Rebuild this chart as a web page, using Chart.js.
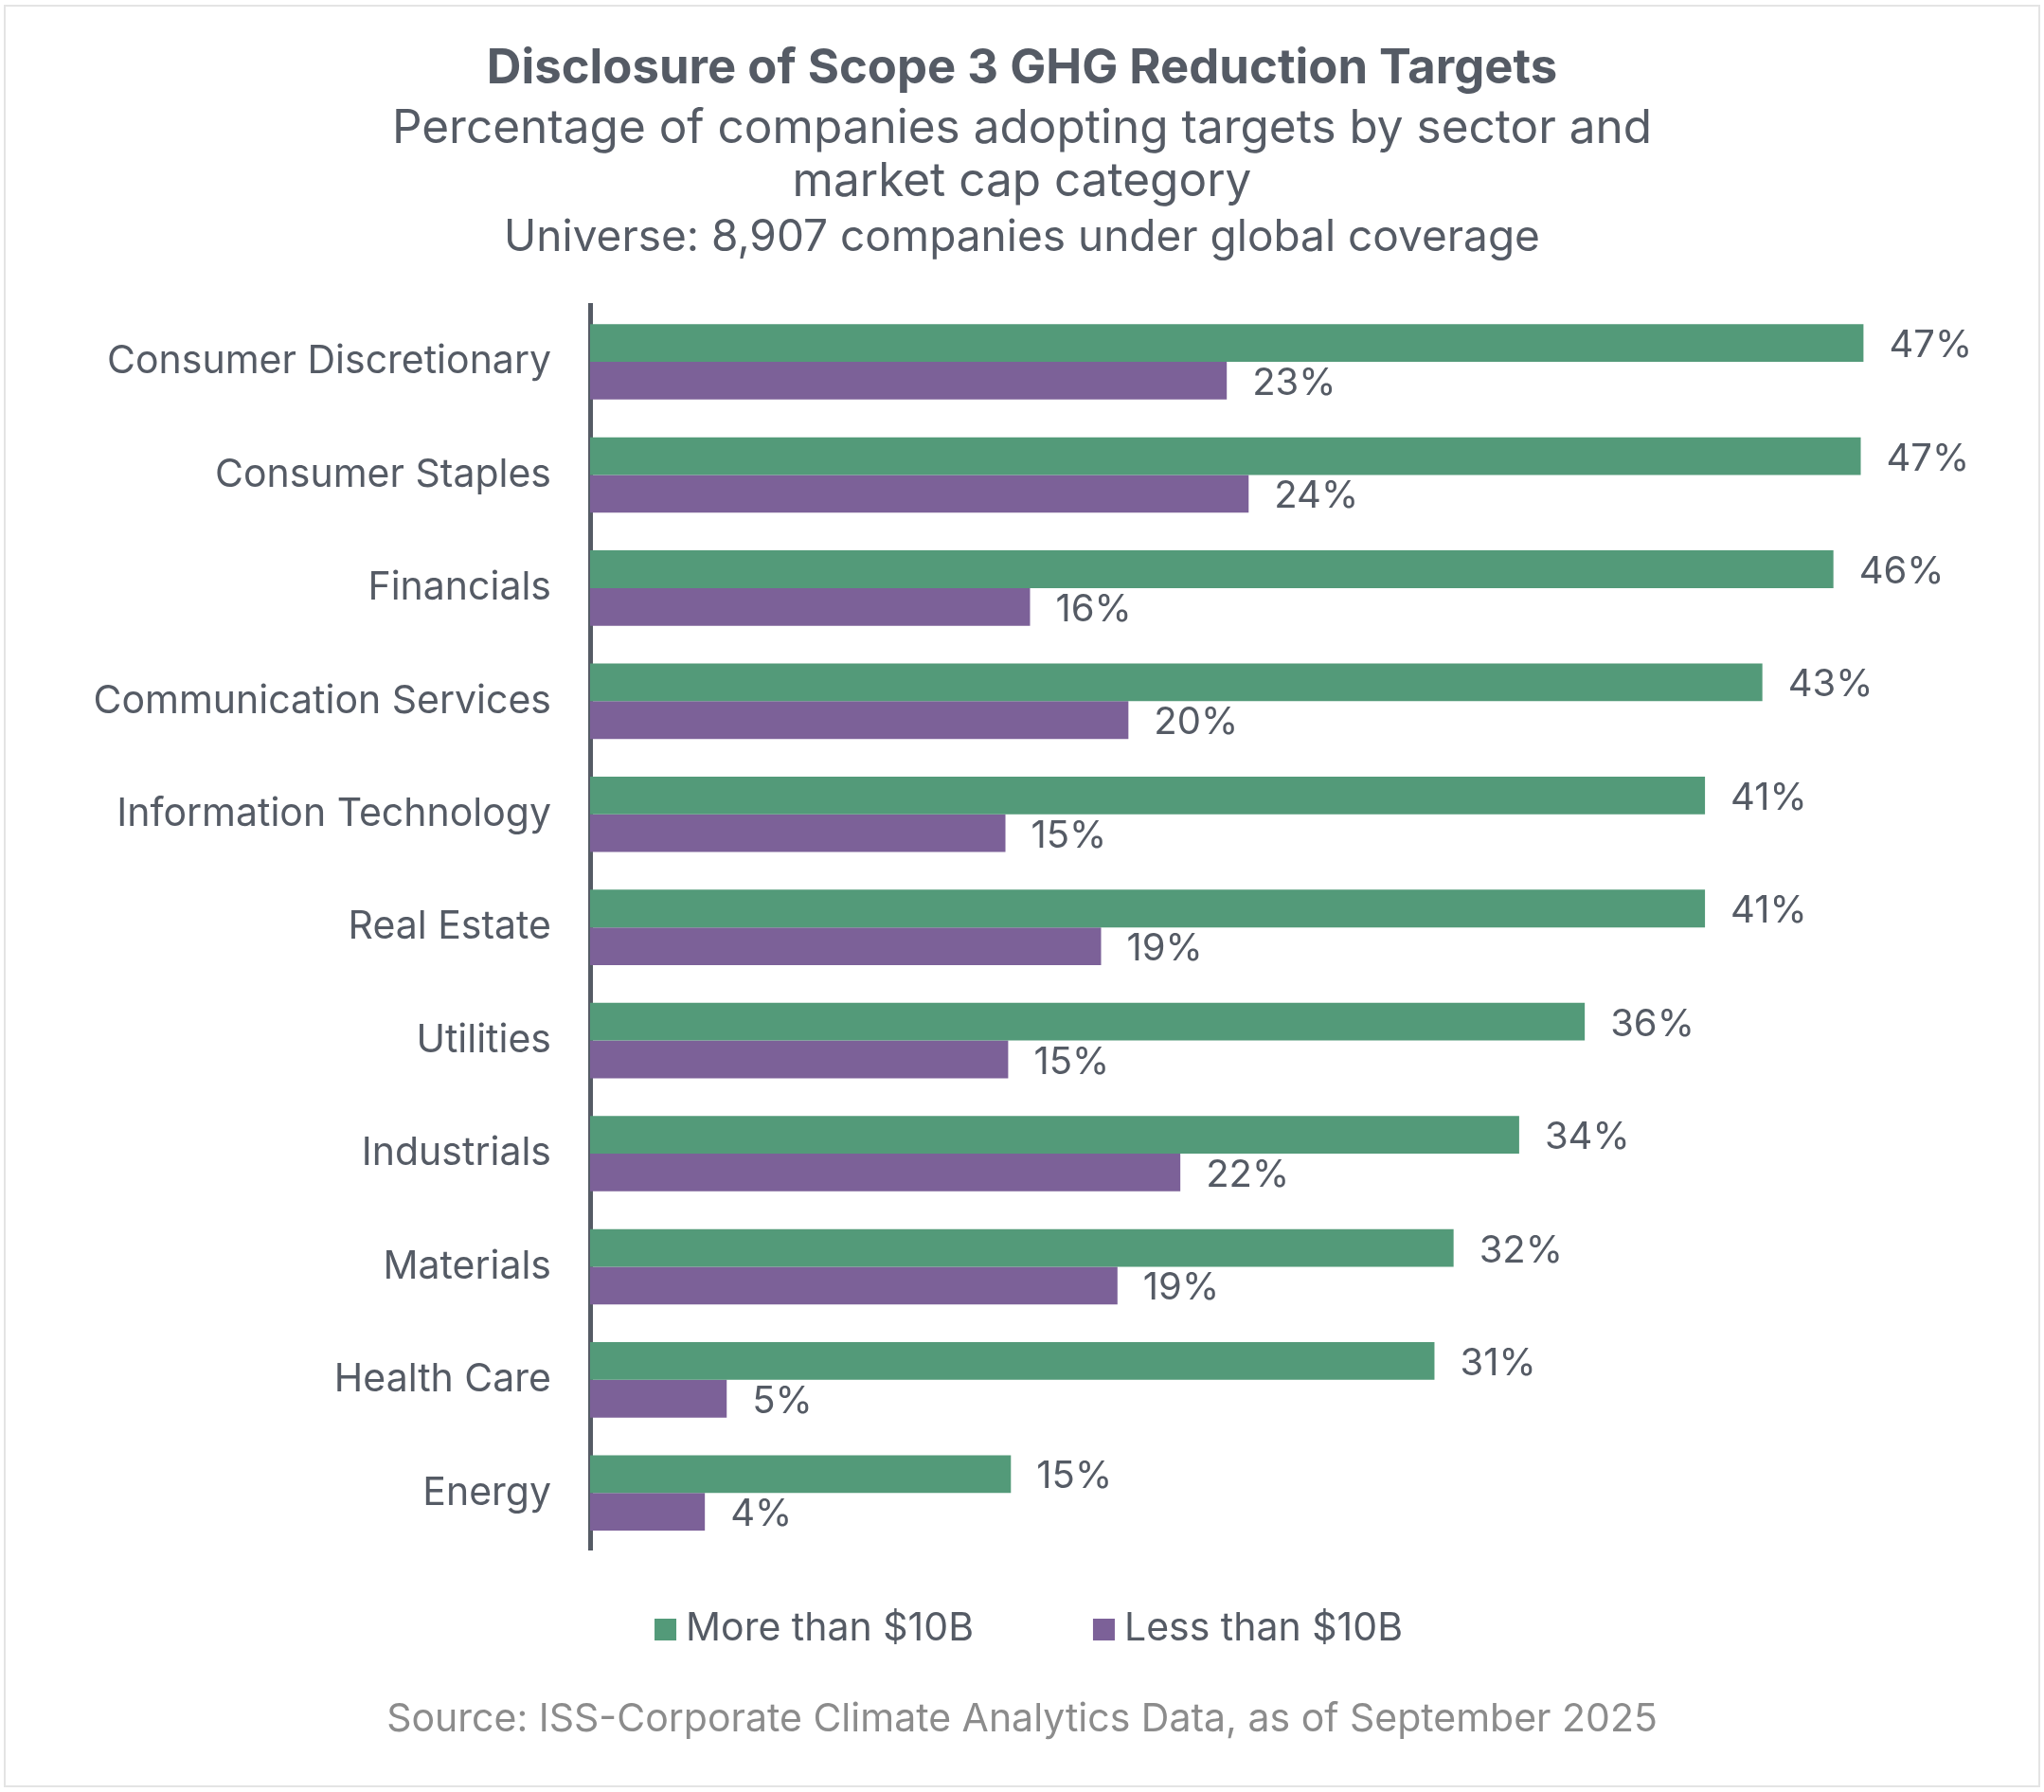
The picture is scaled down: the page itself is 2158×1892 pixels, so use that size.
<!DOCTYPE html>
<html>
<head>
<meta charset="utf-8">
<script src="https://cdn.jsdelivr.net/npm/chart.js@4.4.9/dist/chart.umd.min.js"></script>
<style>
  html, body { margin: 0; padding: 0; background: #fff; }
  #frame { position: absolute; left: 4px; top: 5px; width: 2150px; height: 1882px; border: 2px solid #e4e4e4; box-sizing: border-box; }
  #wrap { position: absolute; left: 0; top: 0; width: 2158px; height: 1892px; }
</style>
</head>
<body>
<div id="frame"></div>
<div id="wrap"><canvas id="scopeChart"></canvas></div>
<script>
// data
const sectors = [
  'Consumer Discretionary', 'Consumer Staples', 'Financials', 'Communication Services',
  'Information Technology', 'Real Estate', 'Utilities', 'Industrials',
  'Materials', 'Health Care', 'Energy'
];
const largeCap = [46.6, 46.5, 45.5, 42.9, 40.8, 40.8, 36.4, 34.0, 31.6, 30.9, 15.4];
const smallCap = [23.3, 24.1, 16.1, 19.7, 15.2, 18.7, 15.3, 21.6, 19.3, 5.0, 4.2];
const seriesNames = ['More than $10B', 'Less than $10B'];
const seriesColors = ['#539a79', '#7c6198'];

const titleText = 'Disclosure of Scope 3 GHG Reduction Targets';
const subtitleLines = [
  'Percentage of companies adopting targets by sector and',
  'market cap category'
];
const universeText = 'Universe: 8,907 companies under global coverage';
const sourceText = 'Source: ISS-Corporate Climate Analytics Data, as of September 2025';

const textColor = '#555b65';
const fontFamily = 'Inter, "Noto Sans", sans-serif';

// value labels at the end of each bar
const barValueLabels = {
  id: 'barValueLabels',
  afterDatasetsDraw(chart) {
    const ctx = chart.ctx;
    ctx.save();
    ctx.font = '40px ' + fontFamily;
    ctx.fillStyle = textColor;
    ctx.textAlign = 'left';
    ctx.textBaseline = 'middle';
    chart.data.datasets.forEach((ds, di) => {
      chart.getDatasetMeta(di).data.forEach((bar, i) => {
        ctx.fillText(Math.round(ds.data[i]) + '%', bar.x + 27, bar.y + 3);
      });
    });
    ctx.restore();
  }
};

// universe line, legend and source line
const extraText = {
  id: 'extraText',
  afterDraw(chart) {
    const ctx = chart.ctx;
    const cx = chart.width / 2;
    ctx.save();
    ctx.textBaseline = 'middle';

    ctx.font = '46px ' + fontFamily;
    ctx.fillStyle = textColor;
    ctx.textAlign = 'center';
    ctx.fillText(universeText, cx, 251);

    ctx.font = '41px ' + fontFamily;
    ctx.textAlign = 'left';
    const box = 23, gapText = 10, gapItem = 126;
    const items = chart.data.datasets.map(ds => ({ text: ds.label, color: ds.backgroundColor }));
    let total = 0;
    items.forEach((it, i) => {
      it.w = ctx.measureText(it.text).width;
      total += box + gapText + it.w + (i < items.length - 1 ? gapItem : 0);
    });
    let x = cx - total / 2 + 7;
    const legendY = 1720;
    items.forEach(it => {
      ctx.fillStyle = it.color;
      ctx.fillRect(x, legendY - 11, box, box);
      ctx.fillStyle = textColor;
      ctx.fillText(it.text, x + box + gapText, legendY);
      x += box + gapText + it.w + gapItem;
    });

    ctx.fillStyle = '#8c8c8c';
    ctx.textAlign = 'center';
    ctx.fillText(sourceText, cx, 1816);
    ctx.restore();
  }
};

const ctx = document.getElementById('scopeChart').getContext('2d');
new Chart(ctx, {
  type: 'bar',
  data: {
    labels: sectors,
    datasets: [
      { label: seriesNames[0], data: largeCap, backgroundColor: seriesColors[0], borderWidth: 0 },
      { label: seriesNames[1], data: smallCap, backgroundColor: seriesColors[1], borderWidth: 0 }
    ]
  },
  options: {
    indexAxis: 'y',
    responsive: true,
    maintainAspectRatio: false,
    animation: false,
    categoryPercentage: 0.6667,
    barPercentage: 1.0,
    // equal side padding keeps the title centred on the page
    layout: { padding: { top: 0, left: 92.5, right: 92.5, bottom: 256 } },
    scales: {
      x: { type: 'linear', min: 0, max: 50, display: false },
      y: {
        z: 1,
        grid: { display: false, drawTicks: false },
        border: { display: true, color: textColor, width: 5 },
        ticks: { color: textColor, font: { family: fontFamily, size: 41 }, padding: 41 },
        afterFit: scale => { scale.width = 530.5; }
      }
    },
    plugins: {
      legend: { display: false },
      tooltip: { enabled: false },
      title: {
        display: true,
        text: titleText,
        color: textColor,
        font: { family: fontFamily, size: 50.8, weight: 'bold', lineHeight: 1.2 },
        padding: { top: 42.5, bottom: 0 }
      },
      subtitle: {
        display: true,
        text: subtitleLines,
        color: textColor,
        font: { family: fontFamily, size: 49.5, lineHeight: 1.13 },
        padding: { top: 4.4, bottom: 102.6 }
      }
    }
  },
  plugins: [barValueLabels, extraText]
});
</script>
</body>
</html>
